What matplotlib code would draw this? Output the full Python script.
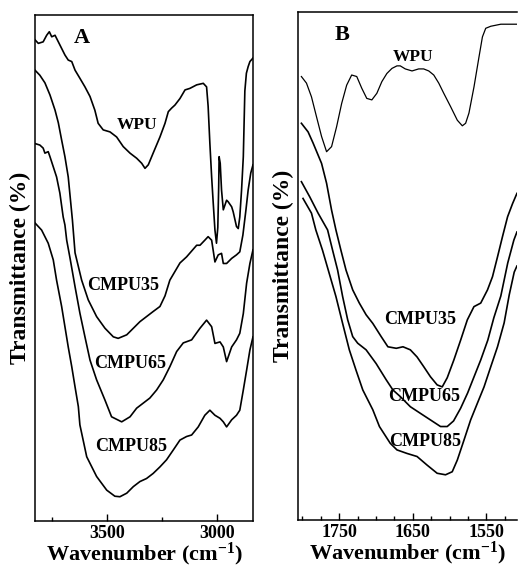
import matplotlib.pyplot as plt
from matplotlib.ticker import FixedLocator

plt.rcParams['font.family'] = 'Liberation Serif'
plt.rcParams['font.weight'] = 'bold'
plt.rcParams['mathtext.fontset'] = 'custom'
plt.rcParams['mathtext.rm'] = 'Liberation Serif:bold'
plt.rcParams['mathtext.it'] = 'Liberation Serif:bold'
plt.rcParams['mathtext.bf'] = 'Liberation Serif:bold'

# ---- panel A : 3800-2850 cm-1 ----
wpu_a_wn = [3827, 3812, 3790, 3774, 3762, 3751, 3736, 3721, 3706, 3691, 3676, 3660, 3645, 3623,
            3600, 3577, 3555, 3540, 3517, 3486, 3456, 3426, 3395, 3365, 3342, 3327, 3312, 3290,
            3259, 3236, 3221, 3206, 3191, 3168, 3145, 3123, 3092, 3062, 3047, 3040, 3032, 3024,
            3017, 3009, 3002, 2996, 2992, 2990, 2985, 2979, 2971, 2956, 2949, 2933, 2926, 2911,
            2903, 2896, 2888, 2880, 2873, 2866, 2858, 2850, 2836]
wpu_a_t = [95.1, 94.4, 94.7, 96.0, 96.7, 95.7, 96.0, 94.7, 93.4, 92.1, 91.1, 90.8, 89.1, 87.5,
           85.8, 83.9, 81.2, 78.6, 77.3, 76.9, 75.9, 74.0, 72.7, 71.7, 70.7, 69.7, 70.4, 72.7,
           75.9, 78.6, 80.9, 81.6, 82.2, 83.5, 85.2, 85.5, 86.2, 86.5, 85.8, 82.0, 74.6, 68.0,
           63.0, 57.5, 54.9, 58.0, 66.0, 72.0, 70.7, 65.4, 61.5, 63.4, 63.1, 62.1, 61.1, 58.2,
           57.8, 60.1, 65.4, 72.0, 85.0, 88.5, 89.8, 90.8, 91.5]

c35_a_wn = [3827, 3805, 3782, 3759, 3736, 3721, 3706, 3691, 3676, 3657, 3645, 3615, 3585, 3547,
            3509, 3471, 3449, 3410, 3380, 3350, 3320, 3290, 3259, 3236, 3214, 3168, 3138, 3092,
            3077, 3055, 3040, 3024, 3009, 2994, 2979, 2971, 2956, 2933, 2911, 2896, 2882, 2868,
            2858, 2846, 2836]
c35_a_t = [89.1, 88.1, 86.6, 84.2, 81.2, 78.7, 75.3, 72.0, 68.0, 59.5, 53.0, 47.6, 43.7, 40.4,
           38.1, 36.4, 36.1, 36.8, 38.1, 39.4, 40.4, 41.4, 42.4, 44.5, 47.6, 51.0, 52.2, 54.5,
           54.5, 55.5, 56.2, 55.5, 51.2, 52.6, 52.9, 50.9, 50.9, 51.9, 52.6, 53.2, 56.5, 61.5,
           65.4, 68.8, 70.4]

c65_a_wn = [3827, 3805, 3790, 3782, 3767, 3759, 3744, 3729, 3714, 3699, 3691, 3683, 3668, 3645,
            3623, 3600, 3577, 3547, 3509, 3479, 3433, 3395, 3365, 3335, 3305, 3274, 3244, 3214,
            3183, 3153, 3115, 3092, 3077, 3047, 3024, 3009, 2986, 2971, 2956, 2933, 2911, 2896,
            2880, 2865, 2850, 2836]
c65_a_t = [74.6, 74.3, 73.7, 72.7, 73.0, 72.0, 70.0, 68.0, 64.8, 60.1, 58.5, 55.5, 52.0, 46.3,
           41.1, 36.4, 31.8, 27.9, 23.9, 20.6, 19.6, 20.6, 22.3, 23.3, 24.3, 25.9, 27.9, 30.5,
           33.5, 35.2, 35.8, 37.2, 38.1, 39.7, 38.4, 35.1, 35.4, 34.4, 31.5, 34.4, 35.8, 37.1,
           41.0, 47.0, 50.9, 53.6]

c85_a_wn = [3827, 3797, 3767, 3744, 3729, 3706, 3691, 3676, 3660, 3645, 3630, 3623, 3592, 3547,
            3501, 3464, 3441, 3410, 3380, 3350, 3320, 3290, 3259, 3229, 3199, 3168, 3138, 3115,
            3085, 3055, 3032, 3009, 2986, 2971, 2956, 2933, 2911, 2896, 2880, 2865, 2850, 2836]
c85_a_t = [58.9, 57.5, 54.9, 51.6, 47.6, 42.4, 38.4, 34.4, 30.5, 26.5, 22.6, 19.0, 12.7, 8.8,
           6.1, 4.9, 4.8, 5.5, 6.8, 7.8, 8.4, 9.4, 10.7, 12.1, 14.0, 16.0, 16.7, 17.0,
           18.6, 20.9, 21.9, 20.9, 20.3, 19.6, 18.6, 20.0, 20.9, 21.9, 25.9, 29.8, 33.8, 36.4]

# ---- panel B : 1800-1510 cm-1 ----
wpu_b_wn = [1801.4, 1794.5, 1787.7, 1780.9, 1774.0, 1767.2, 1760.4, 1753.6, 1746.7, 1739.9,
            1733.1, 1726.2, 1719.4, 1712.6, 1705.7, 1698.9, 1692.1, 1685.3, 1678.4, 1671.6,
            1667.1, 1660.3, 1651.1, 1642.1, 1635.3, 1628.4, 1621.6, 1614.8, 1608.0, 1598.8,
            1589.6, 1582.8, 1578.3, 1573.8, 1566.9, 1560.1, 1555.5, 1551.0, 1544.1, 1530.5, 1508.6]
wpu_b_t = [87.3, 86.0, 83.3, 79.4, 75.5, 72.5, 73.5, 77.4, 82.0, 85.6,
           87.6, 87.3, 85.0, 83.0, 82.7, 84.0, 86.3, 87.9, 88.9, 89.4,
           89.4, 88.8, 88.4, 88.8, 88.8, 88.4, 87.6, 86.0, 84.0, 81.4,
           78.7, 77.6, 78.1, 80.1, 85.3, 91.2, 95.1, 96.8, 97.2, 97.6, 97.6]

c35_b_wn = [1801.4, 1792.3, 1785.5, 1774.0, 1767.2, 1760.4, 1754.5, 1747.7, 1740.8, 1731.7,
            1722.7, 1713.5, 1704.4, 1693.0, 1683.9, 1672.5, 1663.4, 1653.4, 1644.3, 1635.3,
            1626.1, 1617.0, 1610.1, 1603.3, 1594.3, 1585.1, 1576.0, 1567.0, 1557.8, 1548.6,
            1541.8, 1535.0, 1528.2, 1521.3, 1514.5, 1508.6]
c35_b_t = [78.1, 76.4, 74.2, 70.2, 66.3, 61.0, 57.1, 53.1, 49.2, 45.3,
           42.7, 40.4, 38.7, 36.1, 34.1, 33.8, 34.1, 33.5, 32.1, 30.2,
           28.2, 26.6, 26.2, 28.0, 31.5, 35.4, 39.4, 42.0, 42.7, 45.3,
           47.9, 51.8, 55.8, 59.7, 62.3, 64.3]

c65_b_wn = [1801.4, 1790.0, 1778.7, 1765.8, 1759.0, 1752.2, 1745.4, 1738.5, 1731.7, 1724.9,
            1713.5, 1699.9, 1686.2, 1677.1, 1667.1, 1653.4, 1639.8, 1626.1, 1612.4, 1603.3,
            1594.7, 1585.1, 1575.6, 1567.4, 1557.8, 1548.2, 1540.0, 1530.5, 1521.1, 1512.8, 1508.6]
c65_b_t = [66.6, 63.6, 60.4, 57.1, 53.1, 49.2, 44.0, 39.4, 36.1, 34.8,
           33.5, 30.8, 27.6, 25.6, 24.3, 22.3, 21.0, 19.7, 18.4, 18.4,
           19.5, 22.0, 25.0, 28.0, 31.5, 35.4, 39.8, 44.1, 50.6, 55.1, 56.7]

c85_b_wn = [1799.2, 1787.7, 1781.8, 1772.7, 1763.7, 1754.5, 1745.4, 1736.3, 1727.2, 1718.0,
            1704.4, 1695.4, 1680.7, 1671.6, 1657.9, 1644.3, 1630.6, 1617.0, 1605.6, 1596.5,
            1589.6, 1580.6, 1571.5, 1562.3, 1553.3, 1544.1, 1535.0, 1526.0, 1519.1, 1512.3, 1508.6]
c85_b_t = [63.3, 60.4, 57.1, 53.1, 48.6, 44.0, 38.7, 33.5, 29.5, 25.6,
           21.7, 18.4, 15.1, 13.8, 13.1, 12.5, 10.8, 9.2, 8.9, 9.5,
           11.8, 15.7, 19.7, 23.0, 26.2, 30.2, 34.1, 38.8, 44.3, 48.8, 50.0]

fig = plt.figure(figsize=(5.18, 5.67), dpi=100)
axA = fig.add_axes([0.0676, 0.0811, 0.4208, 0.8924])
axB = fig.add_axes([0.5753, 0.0829, 0.4228, 0.8959])

lw = 1.2
for wn, t in [(wpu_a_wn, wpu_a_t), (c35_a_wn, c35_a_t), (c65_a_wn, c65_a_t), (c85_a_wn, c85_a_t)]:
    axA.plot(wn, t, color='black', lw=lw)
axB.plot(wpu_b_wn, wpu_b_t, color='black', lw=0.9)
for wn, t in [(c35_b_wn, c35_b_t), (c65_b_wn, c65_b_t), (c85_b_wn, c85_b_t)]:
    axB.plot(wn, t, color='black', lw=lw)

axA.set_xlim(3827, 2836)
axB.set_xlim(1806, 1508.5)
for ax in (axA, axB):
    ax.set_ylim(0, 100)
    ax.set_yticks([])
    for s in ax.spines.values():
        s.set_linewidth(1.1)
    ax.tick_params(axis='x', which='both', direction='in', labelsize=13, pad=3, width=1)
    ax.tick_params(axis='x', which='major', length=5)
    ax.tick_params(axis='x', which='minor', length=3)
    ax.set_ylabel('Transmittance (%)', fontsize=17, fontweight='bold', labelpad=3)
    ax.set_xlabel('Wavenumber (cm$^{-1}$)', fontsize=16, fontweight='bold', labelpad=-1)

axA.xaxis.set_major_locator(FixedLocator([3500, 3000]))
axA.xaxis.set_minor_locator(FixedLocator([3750, 3250]))
axB.xaxis.set_major_locator(FixedLocator([1750, 1650, 1550]))
axB.xaxis.set_minor_locator(FixedLocator([1800, 1775, 1725, 1700, 1675, 1625, 1600, 1575, 1525]))
axB.spines['right'].set_visible(False)

axA.text(3614, 95.5, 'A', fontsize=16, fontweight='bold', ha='center', va='center')
axA.text(3364, 78.3, 'WPU', fontsize=12.5, ha='center', va='center')
axA.text(3427, 46.6, 'CMPU35', fontsize=13, ha='center', va='center')
axA.text(3395, 31.2, 'CMPU65', fontsize=13, ha='center', va='center')
axA.text(3388, 14.7, 'CMPU85', fontsize=13, ha='center', va='center')

axB.text(1746.7, 95.5, 'B', fontsize=16, fontweight='bold', ha='center', va='center')
axB.text(1649.3, 91.2, 'WPU', fontsize=12.5, ha='center', va='center')
axB.text(1639.8, 39.4, 'CMPU35', fontsize=13, ha='center', va='center')
axB.text(1635.3, 24.3, 'CMPU65', fontsize=13, ha='center', va='center')
axB.text(1632.9, 15.4, 'CMPU85', fontsize=13, ha='center', va='center')

fig.savefig('out.png', dpi=100)
